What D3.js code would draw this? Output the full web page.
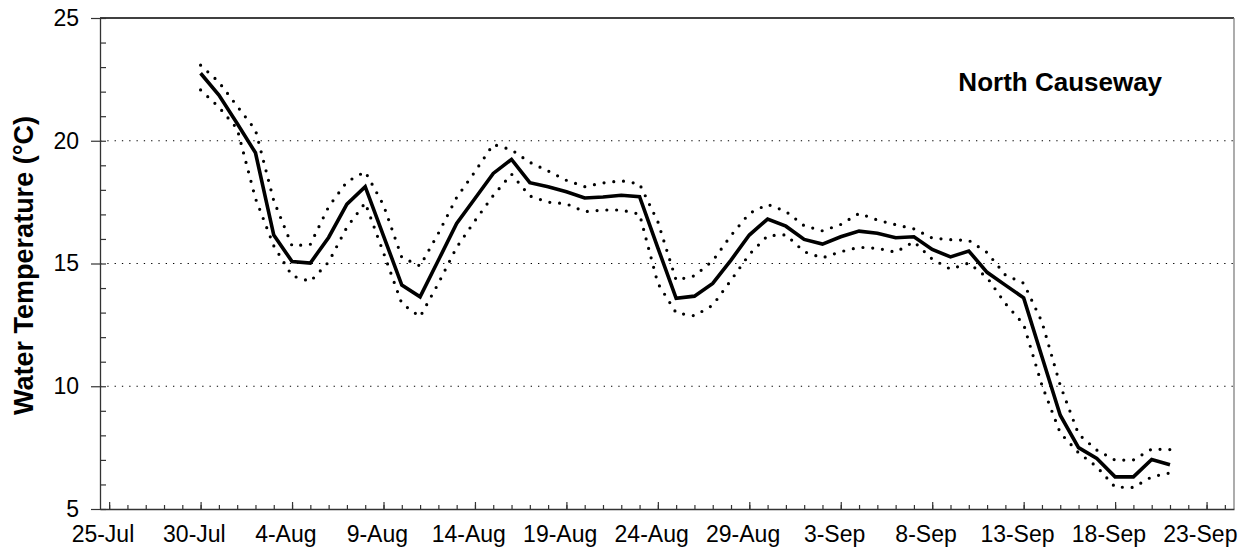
<!DOCTYPE html>
<html>
<head>
<meta charset="utf-8">
<script src="https://cdn.jsdelivr.net/npm/d3@7"></script>
<style>
  body { margin: 0; background: #fff; }
  svg { display: block; font-family: "Liberation Sans", Arial, sans-serif; }
</style>
</head>
<body>
<div id="container"></div>
<script>
/* DATA */
const year = 2003;
const days = [
  "30-Jul", "31-Jul", "1-Aug", "2-Aug", "3-Aug", "4-Aug", "5-Aug", "6-Aug", "7-Aug", "8-Aug",
  "9-Aug", "10-Aug", "11-Aug", "12-Aug", "13-Aug", "14-Aug", "15-Aug", "16-Aug", "17-Aug", "18-Aug",
  "19-Aug", "20-Aug", "21-Aug", "22-Aug", "23-Aug", "24-Aug", "25-Aug", "26-Aug", "27-Aug", "28-Aug",
  "29-Aug", "30-Aug", "31-Aug", "1-Sep", "2-Sep", "3-Sep", "4-Sep", "5-Sep", "6-Sep", "7-Sep",
  "8-Sep", "9-Sep", "10-Sep", "11-Sep", "12-Sep", "13-Sep", "14-Sep", "15-Sep", "16-Sep", "17-Sep",
  "18-Sep", "19-Sep", "20-Sep", "21-Sep"
];

const meanTemp = [
  22.75, 21.86, 20.7, 19.51, 16.16, 15.08, 15.02, 16.06, 17.42, 18.13,
  16.13, 14.12, 13.64, 15.13, 16.63, 17.65, 18.67, 19.24, 18.29, 18.13,
  17.92, 17.67, 17.71, 17.78, 17.72, 15.64, 13.58, 13.67, 14.19, 15.14,
  16.16, 16.81, 16.52, 15.98, 15.79, 16.09, 16.32, 16.23, 16.05, 16.09,
  15.57, 15.27, 15.51, 14.64, 14.12, 13.6, 11.2, 8.82, 7.5, 7.06,
  6.31, 6.31, 7.02, 6.8
];

const upperTemp = [
  23.08, 22.39, 21.41, 20.44, 17.56, 15.72, 15.78, 17.31, 18.33, 18.74,
  17.38, 15.25, 14.9, 16.23, 17.69, 18.74, 19.85, 19.63, 19.12, 18.77,
  18.39, 18.13, 18.28, 18.37, 18.24, 16.7, 14.32, 14.5, 15.11, 16.14,
  17.04, 17.41, 17.12, 16.54, 16.33, 16.59, 17.04, 16.77, 16.58, 16.41,
  16.04, 15.97, 15.94, 15.45, 14.53, 14.2, 12.62, 10.04, 8.05, 7.4,
  6.99, 7.0, 7.44, 7.42
];

const lowerTemp = [
  22.07, 21.37, 20.49, 17.65, 15.72, 14.5, 14.27, 15.06, 16.48, 17.47,
  15.44, 13.37, 12.83, 14.19, 15.66, 16.74, 17.77, 18.64, 17.75, 17.5,
  17.43, 17.11, 17.18, 17.18, 17.01, 14.19, 12.99, 12.87, 13.3, 14.32,
  15.37, 16.13, 16.17, 15.48, 15.23, 15.48, 15.66, 15.62, 15.46, 15.89,
  15.18, 14.77, 15.02, 14.43, 13.37, 12.52, 10.04, 8.1, 7.29, 6.72,
  5.89, 5.88, 6.31, 6.47
];

const xTickLabels = ["25-Jul", "30-Jul", "4-Aug", "9-Aug", "14-Aug", "19-Aug", "24-Aug",
  "29-Aug", "3-Sep", "8-Sep", "13-Sep", "18-Sep", "23-Sep"];
const yTicks = [5, 10, 15, 20, 25];
const yGrid = [10, 15, 20];
const siteName = "North Causeway";

/* CONSTANTS */
const width = 1254, height = 554;
const margin = { top: 18, left: 100, right: 20, bottom: 45 };
const parseDay = s => d3.utcParse("%d-%b-%Y")(`${s}-${year}`);

const dates = days.map(parseDay);
const data = dates.map((d, i) => ({ date: d, mean: meanTemp[i], upper: upperTemp[i], lower: lowerTemp[i] }));

/* SCALES */
const xStart = d3.utcHour.offset(parseDay("24-Jul"), 12);
const xEnd = d3.utcHour.offset(parseDay("24-Sep"), 12);
const xScale = d3.scaleUtc()
  .domain([xStart, xEnd])
  .range([margin.left, width - margin.right]);

const yScale = d3.scaleLinear()
  .domain([5, 25])
  .range([height - margin.bottom, margin.top]);

const svg = d3.select("#container")
  .append("svg")
  .attr("width", width)
  .attr("height", height);

// GRIDLINES
svg.selectAll(".grid")
  .data(yGrid)
  .join("line")
  .attr("class", "grid")
  .attr("x1", margin.left)
  .attr("x2", width - margin.right)
  .attr("y1", d => yScale(d))
  .attr("y2", d => yScale(d))
  .attr("stroke", "#000")
  .attr("stroke-width", 1)
  .attr("stroke-dasharray", "1.3,6");

// PLOT BORDER (top + right)
svg.append("line")
  .attr("x1", margin.left).attr("x2", width - margin.right)
  .attr("y1", yScale(25)).attr("y2", yScale(25))
  .attr("stroke", "#000").attr("stroke-width", 1.3);
svg.append("line")
  .attr("x1", width - margin.right).attr("x2", width - margin.right)
  .attr("y1", yScale(25)).attr("y2", yScale(5))
  .attr("stroke", "#808080").attr("stroke-width", 1.3);

// Y AXIS
const yAxis = svg.append("g")
  .attr("transform", `translate(${margin.left},0)`)
  .call(d3.axisLeft(yScale).tickValues(yTicks).tickSize(9).tickSizeOuter(0).tickPadding(12));
yAxis.selectAll("text").style("font-size", "23px").attr("fill", "#000");

svg.append("g")
  .attr("transform", `translate(${margin.left},0)`)
  .call(d3.axisRight(yScale).tickValues(d3.range(5, 26)).tickSize(6).tickSizeOuter(0).tickFormat(""))
  .call(g => g.select(".domain").remove());

// X AXIS
svg.append("g")
  .attr("transform", `translate(0,${yScale(5)})`)
  .call(d3.axisBottom(xScale).ticks(d3.utcDay.every(1)).tickSize(-4).tickSizeOuter(0).tickFormat(""))
  .call(g => g.select(".domain").remove());

const xAxis = svg.append("g")
  .attr("transform", `translate(0,${yScale(5)})`)
  .call(d3.axisBottom(xScale)
    .tickValues(xTickLabels.map(parseDay))
    .tickSize(-7).tickSizeOuter(0).tickPadding(17)
    .tickFormat(d => d3.utcFormat("%-d-%b")(d)));
xAxis.selectAll("text").style("font-size", "23px").attr("fill", "#000").attr("dx", -6.7);

svg.selectAll(".domain").attr("stroke", "#333").attr("stroke-width", 1.3);
svg.selectAll(".tick line").attr("stroke", "#333").attr("stroke-width", 1.2);

// AXIS LABEL
svg.append("text")
  .attr("transform", `translate(33,${(yScale(5) + yScale(25)) / 2 + 2}) rotate(-90)`)
  .attr("text-anchor", "middle")
  .style("font-size", "27px")
  .style("font-weight", "bold")
  .text("Water Temperature (°C)");

// TITLE
svg.append("text")
  .attr("x", xScale(parseDay("15-Sep")))
  .attr("y", 91)
  .attr("text-anchor", "middle")
  .style("font-size", "26px")
  .style("font-weight", "bold")
  .text(siteName);

// LINES
const lineFor = key => d3.line()
  .x(d => xScale(d.date))
  .y(d => yScale(d[key]));

["upper", "lower"].forEach(key => {
  svg.append("path")
    .datum(data)
    .attr("fill", "none")
    .attr("stroke", "#000")
    .attr("stroke-width", 3.2)
    .attr("stroke-linecap", "round")
    .attr("stroke-dasharray", "0,9.8")
    .attr("d", lineFor(key));
});

svg.append("path")
  .datum(data)
  .attr("fill", "none")
  .attr("stroke", "#000")
  .attr("stroke-width", 3.6)
  .attr("stroke-linejoin", "miter")
  .attr("d", lineFor("mean"));
</script>
</body>
</html>
